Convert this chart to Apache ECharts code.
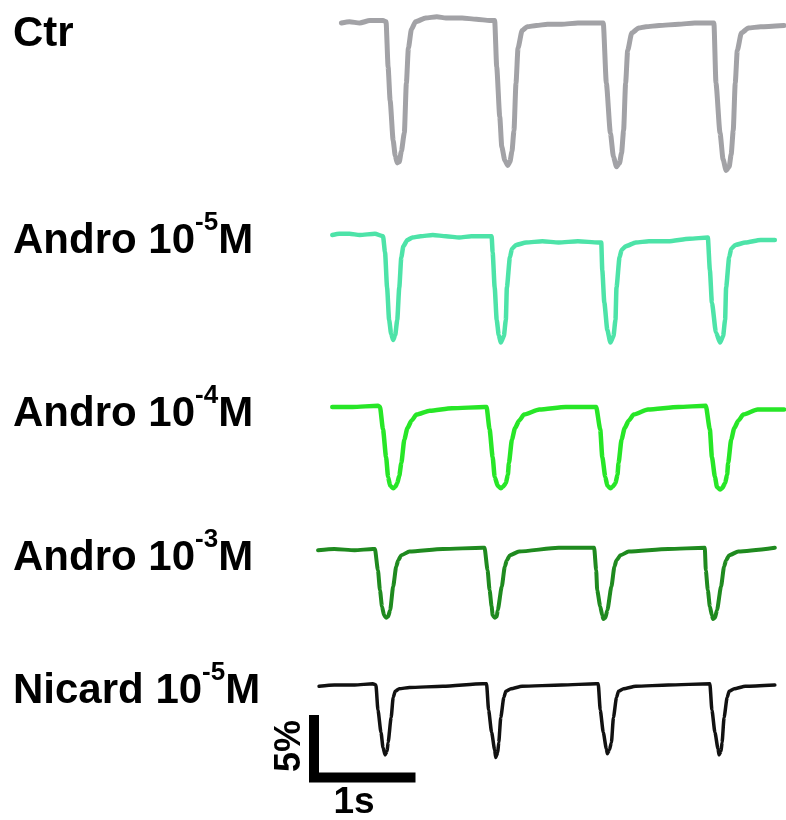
<!DOCTYPE html>
<html>
<head>
<meta charset="utf-8">
<title>Cell shortening traces</title>
<script src="https://cdn.jsdelivr.net/npm/echarts/dist/echarts.min.js"></script>
<style>
  html, body { margin: 0; padding: 0; background: #fff; }
  #chart { width: 786px; height: 820px; }
</style>
</head>
<body>
<div id="chart"></div>
<script>
// time in s, shortening in % relative to each trace's resting baseline
const ctrTrace = [
  [0.27, 0.0], [0.35, 0.1], [0.45, 0.0], [0.55, 0.2], [0.68, 0.2], [0.71, 0.1], [0.73, -3.5], [0.75, -6.2],
  [0.78, -9.4], [0.80, -10.6], [0.82, -11.2], [0.84, -11.1], [0.86, -10.3], [0.89, -8.8], [0.91, -4.8], [0.93, -2.0],
  [0.96, -0.5], [1.00, 0.1], [1.10, 0.4], [1.21, 0.5], [1.30, 0.4], [1.46, 0.4], [1.60, 0.3], [1.73, 0.2], [1.78, 0.2],
  [1.80, -3.5], [1.83, -7.5], [1.85, -9.9], [1.88, -11.0], [1.91, -11.4], [1.93, -11.1], [1.95, -10.3], [1.97, -8.6],
  [1.99, -4.8], [2.01, -2.0], [2.05, -0.6], [2.10, -0.3], [2.19, -0.2], [2.30, -0.1], [2.44, -0.1], [2.60, 0.0],
  [2.83, 0.0], [2.85, 0.0], [2.88, -4.8], [2.92, -8.8], [2.95, -10.7], [2.98, -11.5], [3.01, -11.2], [3.03, -10.4],
  [3.05, -8.6], [3.07, -4.8], [3.09, -2.2], [3.13, -0.8], [3.20, -0.4], [3.27, -0.3], [3.40, -0.2], [3.59, -0.1],
  [3.75, 0.0], [3.91, 0.0], [3.94, 0.0], [3.96, -4.8], [4.00, -8.8], [4.03, -10.9], [4.06, -11.8], [4.09, -11.5],
  [4.11, -10.5], [4.13, -8.6], [4.15, -4.8], [4.17, -2.2], [4.21, -0.8], [4.28, -0.4], [4.40, -0.3], [4.63, -0.2]
];
const andro5Trace = [
  [0.18, 0.0], [0.25, 0.1], [0.35, 0.1], [0.45, 0.0], [0.60, 0.1], [0.68, -0.1], [0.70, -1.4], [0.72, -4.2],
  [0.74, -6.8], [0.76, -7.9], [0.78, -8.4], [0.80, -8.0], [0.82, -6.8], [0.84, -4.2], [0.86, -1.8], [0.88, -0.9],
  [0.92, -0.4], [0.97, -0.2], [1.05, -0.1], [1.17, 0.0], [1.30, -0.1], [1.43, -0.2], [1.55, -0.1], [1.70, -0.1],
  [1.75, -0.1], [1.76, -1.4], [1.78, -4.2], [1.80, -6.8], [1.82, -8.0], [1.84, -8.6], [1.87, -8.1], [1.89, -6.8],
  [1.90, -4.2], [1.93, -1.8], [1.95, -1.1], [1.99, -0.8], [2.09, -0.6], [2.25, -0.5], [2.41, -0.6], [2.60, -0.5],
  [2.80, -0.6], [2.83, -0.6], [2.84, -2.8], [2.86, -5.4], [2.89, -7.6], [2.92, -8.6], [2.95, -8.1], [2.97, -6.8],
  [2.98, -4.2], [3.01, -1.8], [3.03, -1.2], [3.07, -0.9], [3.17, -0.6], [3.30, -0.5], [3.49, -0.5], [3.70, -0.3],
  [3.88, -0.2], [3.90, -2.8], [3.92, -5.4], [3.96, -7.8], [4.00, -8.6], [4.03, -8.1], [4.05, -6.8], [4.06, -4.2],
  [4.09, -1.8], [4.11, -1.1], [4.15, -0.8], [4.25, -0.6], [4.40, -0.4], [4.54, -0.4]
];
const andro4Trace = [
  [0.18, 0.0], [0.38, 0.0], [0.63, 0.1], [0.65, 0.0], [0.68, -1.8], [0.71, -4.0], [0.73, -5.6], [0.75, -6.3],
  [0.78, -6.5], [0.80, -6.4], [0.82, -6.1], [0.84, -5.5], [0.86, -4.5], [0.89, -2.6], [0.92, -1.7], [0.96, -1.1],
  [1.01, -0.6], [1.14, -0.3], [1.36, -0.1], [1.68, 0.0], [1.70, 0.0], [1.73, -1.8], [1.76, -4.0], [1.78, -5.6],
  [1.81, -6.3], [1.84, -6.5], [1.86, -6.4], [1.89, -6.1], [1.91, -5.4], [1.92, -4.5], [1.95, -2.6], [1.98, -1.7],
  [2.02, -1.1], [2.07, -0.6], [2.22, -0.2], [2.48, 0.0], [2.78, 0.0], [2.82, -1.8], [2.84, -4.0], [2.87, -5.6],
  [2.89, -6.3], [2.92, -6.5], [2.94, -6.4], [2.97, -6.1], [2.99, -5.4], [3.00, -4.5], [3.03, -2.6], [3.06, -1.7],
  [3.10, -1.1], [3.15, -0.6], [3.29, -0.2], [3.59, 0.0], [3.86, 0.1], [3.90, -1.8], [3.92, -4.0], [3.95, -5.6],
  [3.97, -6.4], [4.00, -6.6], [4.02, -6.5], [4.05, -6.1], [4.07, -5.4], [4.08, -4.5], [4.11, -2.6], [4.14, -1.7],
  [4.18, -1.1], [4.23, -0.6], [4.37, -0.2], [4.63, -0.2]
];
const andro3Trace = [
  [0.04, -0.1], [0.20, 0.0], [0.40, -0.1], [0.58, 0.0], [0.60, 0.0], [0.63, -1.7], [0.65, -3.3], [0.67, -4.6],
  [0.69, -5.3], [0.71, -5.5], [0.73, -5.4], [0.75, -4.9], [0.78, -3.0], [0.81, -1.4], [0.83, -0.9], [0.86, -0.5],
  [0.94, -0.2], [1.27, 0.0], [1.66, 0.1], [1.68, 0.1], [1.71, -1.7], [1.73, -3.3], [1.75, -4.6], [1.76, -5.3],
  [1.78, -5.5], [1.80, -5.4], [1.81, -4.9], [1.85, -3.0], [1.88, -1.4], [1.90, -0.9], [1.93, -0.5], [2.02, -0.2],
  [2.41, 0.1], [2.76, 0.1], [2.78, -1.7], [2.79, -3.3], [2.82, -4.6], [2.84, -5.3], [2.85, -5.6], [2.87, -5.5],
  [2.89, -4.9], [2.93, -3.0], [2.96, -1.4], [2.98, -0.9], [3.02, -0.5], [3.10, -0.2], [3.49, 0.0], [3.85, 0.1],
  [3.86, -1.7], [3.88, -3.3], [3.90, -4.6], [3.92, -5.3], [3.93, -5.6], [3.95, -5.5], [3.97, -4.9], [4.01, -3.0],
  [4.04, -1.4], [4.06, -0.9], [4.09, -0.5], [4.18, -0.2], [4.54, 0.1]
];
const nicardTrace = [
  [0.05, -0.1], [0.20, 0.0], [0.40, 0.0], [0.58, 0.1], [0.61, 0.0], [0.63, -2.0], [0.66, -3.8], [0.68, -5.0],
  [0.70, -5.6], [0.72, -5.3], [0.73, -4.6], [0.76, -2.6], [0.78, -1.0], [0.80, -0.5], [0.84, -0.3], [0.94, -0.2],
  [1.27, -0.1], [1.66, 0.1], [1.70, 0.1], [1.72, -2.0], [1.75, -3.8], [1.78, -5.2], [1.79, -5.8], [1.81, -5.4],
  [1.82, -4.6], [1.84, -2.6], [1.87, -1.0], [1.89, -0.5], [1.94, -0.3], [2.05, -0.1], [2.44, 0.0], [2.78, 0.1],
  [2.80, 0.1], [2.82, -2.0], [2.85, -3.8], [2.88, -5.1], [2.89, -5.5], [2.91, -5.2], [2.93, -4.6], [2.95, -2.6],
  [2.98, -1.0], [3.00, -0.5], [3.05, -0.3], [3.17, -0.1], [3.49, 0.0], [3.90, 0.1], [3.92, -2.0], [3.95, -3.8],
  [3.98, -5.1], [3.99, -5.6], [4.01, -5.3], [4.02, -4.6], [4.04, -2.6], [4.07, -1.0], [4.09, -0.5], [4.14, -0.3],
  [4.25, -0.1], [4.54, 0.0]
];

// scale bar: 1 s horizontal, 5 % vertical
const scaleBar = [[0, -2.4], [0, -7.4], [1, -7.4]];

const traceNames = ["Ctr", "Andro 10-5M", "Andro 10-4M", "Andro 10-3M", "Nicard 10-5M"];
const labelParts = [
  ["Ctr", "", ""],
  ["Andro 10", "-5", "M"],
  ["Andro 10", "-4", "M"],
  ["Andro 10", "-3", "M"],
  ["Nicard 10", "-5", "M"]
];
const traces = [ctrTrace, andro5Trace, andro4Trace, andro3Trace, nicardTrace];
const colors = ["#a2a2a6", "#4de3a8", "#27e627", "#1f8a1f", "#111111"];
const widths = [5, 4.5, 4.5, 4, 3.5];

// layout
const pxPerSec = 102;
const pxPerPct = 12.5;
const plotLeft = 314;
const baselines = [23, 235, 407, 549, 685];
const labelTops = [13, 210, 383, 527, 660];
const yMins = [-13, -10, -10, -10, -9];
const yMax = 1.5;
const xMax = 4.65;
const font = "'Liberation Sans', Arial, sans-serif";

const chart = echarts.init(document.getElementById("chart"), null, { renderer: "canvas" });

// every panel shares the same px per second and px per percent
const grids = baselines.map((b, i) => ({
  left: plotLeft,
  top: b - yMax * pxPerPct,
  width: xMax * pxPerSec,
  height: (yMax - yMins[i]) * pxPerPct
}));

const hidden = {
  axisLine: { show: false },
  axisTick: { show: false },
  axisLabel: { show: false },
  splitLine: { show: false }
};

const xAxes = baselines.map((b, i) => ({ type: "value", gridIndex: i, min: 0, max: xMax, ...hidden }));
const yAxes = baselines.map((b, i) => ({ type: "value", gridIndex: i, min: yMins[i], max: yMax, ...hidden }));

const series = traces.map((data, i) => ({
  name: traceNames[i],
  type: "line",
  xAxisIndex: i,
  yAxisIndex: i,
  data: data,
  showSymbol: false,
  smooth: 0.2,
  smoothMonotone: "x",
  clip: false,
  silent: true,
  lineStyle: { color: colors[i], width: widths[i], join: "round", cap: "round" }
}));

series.push({
  name: "scale",
  type: "line",
  xAxisIndex: 4,
  yAxisIndex: 4,
  data: scaleBar,
  showSymbol: false,
  clip: false,
  silent: true,
  lineStyle: { color: "#000", width: 10, join: "miter", cap: "butt" }
});

const labels = labelParts.map((p, i) => ({
  type: "text",
  left: 13,
  top: labelTops[i],
  style: {
    text: "{a|" + p[0] + "}" + (p[1] ? "{s|" + p[1] + "}{a|" + p[2] + "}" : ""),
    rich: {
      a: { fontSize: 42, fontWeight: "bold", fontFamily: font, fill: "#000", lineHeight: 52, verticalAlign: "bottom" },
      s: { fontSize: 26, fontWeight: "bold", fontFamily: font, fill: "#000", lineHeight: 26, verticalAlign: "top" }
    }
  }
}));

const option = {
  animation: false,
  backgroundColor: "#fff",
  grid: grids,
  xAxis: xAxes,
  yAxis: yAxes,
  series: series,
  graphic: [
    ...labels,
    {
      type: "text",
      x: 290,
      y: 746,
      rotation: Math.PI / 2,
      style: {
        text: "5%",
        fontSize: 36,
        fontWeight: "bold",
        fontFamily: font,
        fill: "#000",
        align: "center",
        verticalAlign: "middle"
      }
    },
    {
      type: "text",
      x: 354,
      y: 803,
      style: {
        text: "1s",
        fontSize: 37,
        fontWeight: "bold",
        fontFamily: font,
        fill: "#000",
        align: "center",
        verticalAlign: "middle"
      }
    }
  ]
};

chart.setOption(option);
</script>
</body>
</html>
